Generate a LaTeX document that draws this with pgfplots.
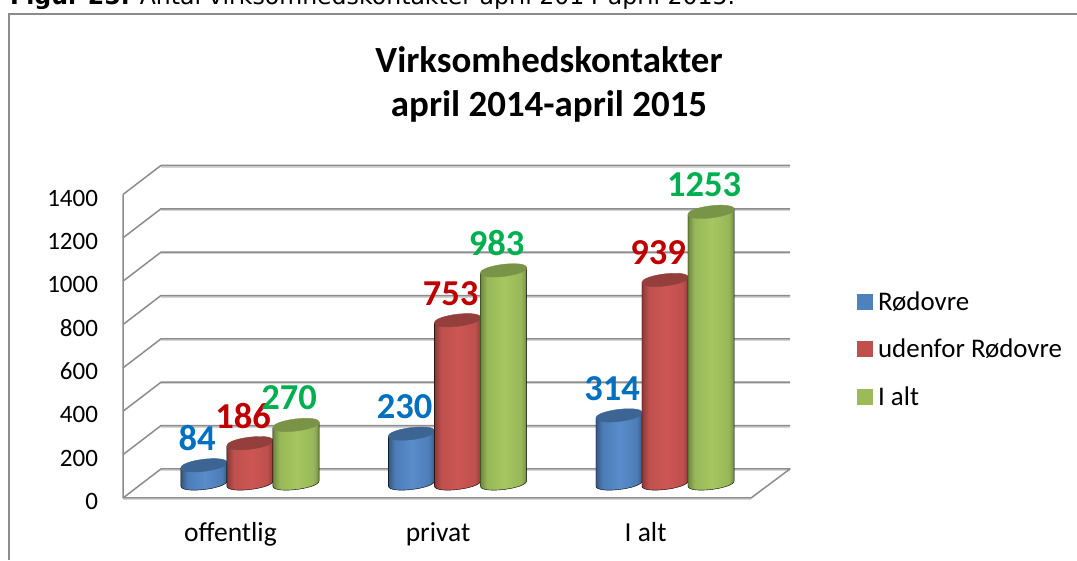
\documentclass[border=0pt]{standalone}
\usepackage{fontspec}
\setmainfont{Carlito}
\newfontfamily\hdr{DejaVu Sans}
\usepackage{pgfplots}
\pgfplotsset{compat=1.18}
\definecolor{bD}{HTML}{35587F}\definecolor{bM}{HTML}{4D7DB8}\definecolor{bC}{HTML}{5A8CCB}\definecolor{bT}{HTML}{3D6594}
\definecolor{rD}{HTML}{8A3937}\definecolor{rM}{HTML}{BE504D}\definecolor{rC}{HTML}{CD5654}\definecolor{rT}{HTML}{953F3D}
\definecolor{gD}{HTML}{6E8740}\definecolor{gM}{HTML}{98B858}\definecolor{gC}{HTML}{A5C661}\definecolor{gT}{HTML}{7A9447}
\definecolor{leg1}{HTML}{4F81BD}\definecolor{leg2}{HTML}{C0504D}\definecolor{leg3}{HTML}{9BBB59}
\definecolor{lab1}{HTML}{0070C0}\definecolor{lab2}{HTML}{C00000}\definecolor{lab3}{HTML}{00B050}
\definecolor{gridc}{HTML}{8C8C8C}\definecolor{grids}{HTML}{D4D4D4}
\pgfdeclarehorizontalshading{cylb}{100bp}{color(0bp)=(bD);color(25bp)=(bD);color(32bp)=(bM);color(50bp)=(bC);color(68bp)=(bM);color(75bp)=(bD);color(100bp)=(bD)}
\pgfdeclarehorizontalshading{cylr}{100bp}{color(0bp)=(rD);color(25bp)=(rD);color(32bp)=(rM);color(50bp)=(rC);color(68bp)=(rM);color(75bp)=(rD);color(100bp)=(rD)}
\pgfdeclarehorizontalshading{cylg}{100bp}{color(0bp)=(gD);color(25bp)=(gD);color(32bp)=(gM);color(50bp)=(gC);color(68bp)=(gM);color(75bp)=(gD);color(100bp)=(gD)}
\pgfplotsset{
  cyl/.style n args={2}{only marks, scatter, mark=*, mark size=0pt, forget plot,
    mark options={draw=none,fill=none},
    point meta=y,
    visualization depends on={rawy \as \barval},
    scatter/@pre marker code/.code={%
      \pgfmathsetmacro\H{\barval*0.2168}%
      \scope[x=1pt,y=1pt]
      \shade[shading=#1] (-23.1,-2.84) -- (-23.1,-2.84-\H) .. controls (-22.1,-10.8-\H) and (24.1,-5.1-\H) .. (23.1,2.84-\H) -- (23.1,2.84) -- cycle;
      \fill[#2] (-23.1,-2.84) .. controls (-24.1,5.1) and (22.1,10.8) .. (23.1,2.84) .. controls (24.1,-5.1) and (-22.1,-10.8) .. (-23.1,-2.84) -- cycle;
      \endscope
      \pgfscope},
    scatter/@post marker code/.code={\endpgfscope},
  },
  lbl/.style={only marks, mark=none, forget plot, point meta=y,
    nodes near coords,
    nodes near coords style={anchor=center,inner sep=0pt,xshift=-7pt,yshift=27pt,text=#1,font=\fontsize{36.5}{40}\selectfont\bfseries,
      /pgf/number format/assume math mode=true,/pgf/number format/1000 sep={},/pgf/number format/fixed},
  },
  grd/.style={gridc,line width=1.5pt,forget plot,line join=round},
  grs/.style={grids,line width=1.5pt,forget plot,yshift=-1.4pt},
}
\begin{document}
\begin{tikzpicture}[x=1pt,y=1pt]
\path[clip,use as bounding box] (0,0) rectangle (1077,560);
\fill[white] (0,0) rectangle (1077,560);
\draw[gridc,line width=1.5pt] (9,0) -- (9,546) -- (1077,546);
\node[anchor=base west,inner sep=0pt,font=\hdr\fontsize{23.6}{28}\selectfont] at (10,555) {\textbf{Figur 25.} Antal virksomhedskontakter april 2014-april 2015.};
% background: walls and ticks
\begin{axis}[at={(123pt,62pt)},anchor=south west,scale only axis,width=667pt,height=333pt,
  xmin=-0.518,xmax=2.696,ymin=0,ymax=1536,clip=false,
  axis line style={draw=none},major tick length=0pt,
  xtick={0,1,2},xticklabels={offentlig,privat,I alt},
  ytick={0,200,...,1400},
  yticklabel style={font=\fontsize{25}{30}\selectfont},
  xticklabel style={font=\fontsize{27.5}{32}\selectfont},
  /pgf/number format/assume math mode=true,/pgf/number format/1000 sep={},
  yticklabel style={anchor=east,xshift=-21.5pt,yshift=-3.5pt},
  xticklabel style={anchor=base,yshift=-43pt},
  title={Virksomhedskontakter\\april 2014-april 2015},
  title style={at={(0.6387,1.225)},anchor=center,align=center,font=\fontsize{36.9}{44}\selectfont\bfseries},
]
\addplot[grs] coordinates {(-0.335,134) (2.696,134)};
\addplot[grs] coordinates {(-0.335,334) (2.696,334)};
\addplot[grs] coordinates {(-0.335,534) (2.696,534)};
\addplot[grs] coordinates {(-0.335,734) (2.696,734)};
\addplot[grs] coordinates {(-0.335,934) (2.696,934)};
\addplot[grs] coordinates {(-0.335,1134) (2.696,1134)};
\addplot[grs] coordinates {(-0.335,1334) (2.696,1334)};
\addplot[grs] coordinates {(-0.335,1534) (2.696,1534)};
\addplot[grs] coordinates {(-0.518,0) (2.508,0)};
\addplot[grd] coordinates {(-0.518,0) (-0.335,134) (2.696,134) (2.508,0) (-0.518,0) (-0.518,1400)};
\addplot[grd] coordinates {(-0.518,200) (-0.335,334) (2.696,334)};
\addplot[grd] coordinates {(-0.518,400) (-0.335,534) (2.696,534)};
\addplot[grd] coordinates {(-0.518,600) (-0.335,734) (2.696,734)};
\addplot[grd] coordinates {(-0.518,800) (-0.335,934) (2.696,934)};
\addplot[grd] coordinates {(-0.518,1000) (-0.335,1134) (2.696,1134)};
\addplot[grd] coordinates {(-0.518,1200) (-0.335,1334) (2.696,1334)};
\addplot[grd] coordinates {(-0.518,1400) (-0.335,1534) (2.696,1534)};
\end{axis}
% bars
\begin{axis}[at={(123pt,62pt)},anchor=south west,scale only axis,width=667pt,height=333pt,
  xmin=-0.612,xmax=2.602,ymin=-66.9,ymax=1469,clip=false,hide axis,
  legend style={at={(1.1,0.447)},anchor=west,draw=none,fill=none,inner sep=0pt,
    font=\fontsize{26.9}{32}\selectfont,row sep=23.5pt},
  legend cell align=left,
  legend image code/.code={\fill[#1] (0pt,-7.5pt) rectangle (15pt,7.5pt);\path[draw=none,fill=none] (0pt,0pt) -- (19pt,0pt);},
]
\addlegendimage{leg1}\addlegendentry{Rødovre}
\addlegendimage{leg2}\addlegendentry{udenfor Rødovre}
\addlegendimage{leg3}\addlegendentry{I alt}
\addplot[cyl={cylb}{bT}] coordinates {(-0.2217,84) (0.7783,230) (1.7783,314)};
\addplot[cyl={cylr}{rT}] coordinates {(0,186) (1,753) (2,939)};
\addplot[cyl={cylg}{gT}] coordinates {(0.2217,270) (1.2217,983) (2.2217,1253)};
\addplot[lbl=lab1] coordinates {(-0.2217,84) (0.7783,230) (1.7783,314)};
\addplot[lbl=lab2] coordinates {(0,186) (1,753) (2,939)};
\addplot[lbl=lab3] coordinates {(0.2217,270) (1.2217,983) (2.2217,1253)};
\end{axis}
\end{tikzpicture}
\end{document}
